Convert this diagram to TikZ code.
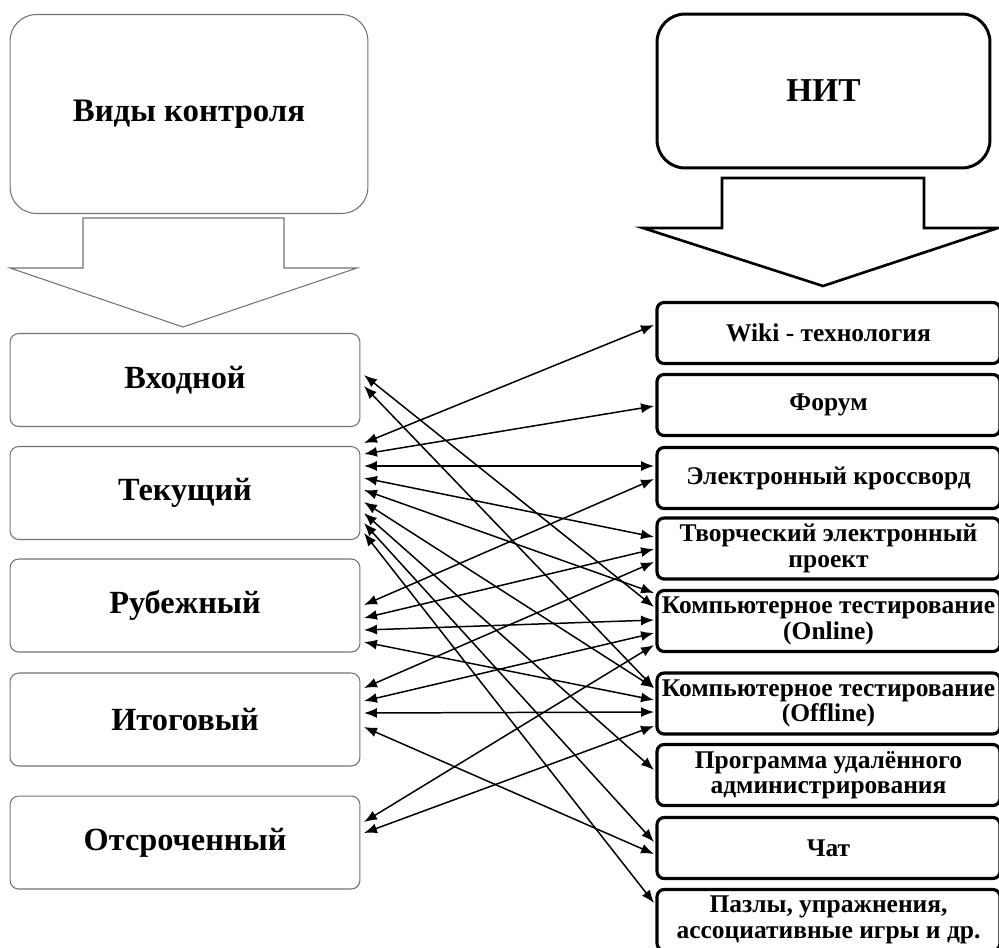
\documentclass[tikz,border=0pt]{standalone}
\usepackage{fontspec}
\setmainfont{Liberation Serif}
\usetikzlibrary{arrows.meta,calc}

\begin{document}
\begin{tikzpicture}[x=0.02cm,y=-0.02cm]
\tikzstyle{every node}+=[inner sep=0pt,outer sep=0pt,font=\bfseries]
\tikzstyle{vid}=[draw=black!55,line width=0.6pt,rounded corners=5pt,minimum width=7cm,minimum height=1.86cm,font=\bfseries\fontsize{18.4}{20}\selectfont]
\tikzstyle{tech}=[draw=black,line width=1.8pt,rounded corners=4pt,minimum width=6.86cm,minimum height=1.22cm,align=center,font=\bfseries\fontsize{14.5}{14.5}\selectfont]
\tikzstyle{link}=[{Latex[length=2.6mm,width=2mm]}-{Latex[length=2.6mm,width=2mm]},line width=0.85pt]
\useasboundingbox (0,0) rectangle (999,947);
\node [draw=black!55,line width=0.6pt,rounded corners=15pt,minimum width=7.16cm,minimum height=3.98cm,font=\bfseries\fontsize{18.7}{21}\selectfont] (vidy) at (189,114) {Виды контроля};
\node [draw=black,line width=1.7pt,rounded corners=16pt,minimum width=6.66cm,minimum height=3.08cm,font=\bfseries\fontsize{19}{21}\selectfont] (nit) at (823.5,91) {НИТ};
\draw [black!55,line width=0.6pt] (83,218) -- (284,218) -- (284,268) -- (357,268) -- (183,327) -- (10,268) -- (83,268) -- cycle;
\draw [black,line width=1.5pt] (722,178) -- (924,178) -- (924,228) -- (998,228) -- (823,286) -- (643,228) -- (722,228) -- cycle;
\node [vid] (vhod) at (185,380) {Входной};
\node [vid] (tek) at (185,493) {Текущий};
\node [vid] (rub) at (185,605.5) {Рубежный};
\node [vid] (itog) at (185,719.5) {Итоговый};
\node [vid] (otsr) at (185,842.5) {Отсроченный};
\node [tech] (wiki) at (828.5,333) {Wiki - технология};
\node [tech] (forum) at (828.5,405) {Форум};
\node [tech] (kross) at (828.5,478) {Электронный кроссворд};
\node [tech] (tvor) at (828.5,548.5) {Творческий электронный\\проект};
\node [tech] (onl) at (828.5,621) {Компьютерное тестирование\\(Online)};
\node [tech] (offl) at (828.5,703.5) {Компьютерное тестирование\\(Offline)};
\node [tech] (prog) at (828.5,775) {Программа удалённого\\администрирования};
\node [tech] (chat) at (828.5,848) {Чат};
\node [tech] (puzz) at (828.5,920) {Пазлы, упражнения,\\ассоциативные игры и др.};
\draw [link] ($(vhod.east)+(4,-5)$) -- ($(onl.west)+(-3,-14)$);
\draw [link] ($(vhod.east)+(4,6)$) -- ($(offl.west)+(-3,-15.5)$);
\draw [link] ($(tek.east)+(4,-50)$) -- ($(wiki.west)+(-3,-8)$);
\draw [link] ($(tek.east)+(4,-39)$) -- ($(forum.west)+(-3,1)$);
\draw [link] ($(tek.east)+(4,-27)$) -- ($(kross.west)+(-3,-12)$);
\draw [link] ($(tek.east)+(4,-15)$) -- ($(tvor.west)+(-3,-11.5)$);
\draw [link] ($(tek.east)+(4,-3)$) -- ($(onl.west)+(-3,-28)$);
\draw [link] ($(tek.east)+(4,9)$) -- ($(offl.west)+(-3,-15.5)$);
\draw [link] ($(tek.east)+(4,20)$) -- ($(prog.west)+(-3,-5)$);
\draw [link] ($(tek.east)+(4,30)$) -- ($(chat.west)+(-3,-6)$);
\draw [link] ($(tek.east)+(4,40)$) -- ($(puzz.west)+(-3,-17)$);
\draw [link] ($(rub.east)+(4,-0.5)$) -- ($(kross.west)+(-3,1)$);
\draw [link] ($(rub.east)+(4,12.5)$) -- ($(tvor.west)+(-3,0.5)$);
\draw [link] ($(rub.east)+(4,24.5)$) -- ($(onl.west)+(-3,-1)$);
\draw [link] ($(rub.east)+(4,36.5)$) -- ($(offl.west)+(-3,-3.5)$);
\draw [link] ($(itog.east)+(4,-31.5)$) -- ($(tvor.west)+(-3,13.5)$);
\draw [link] ($(itog.east)+(4,-18.5)$) -- ($(onl.west)+(-3,12)$);
\draw [link] ($(itog.east)+(4,-6.5)$) -- ($(offl.west)+(-3,8.5)$);
\draw [link] ($(itog.east)+(4,7.5)$) -- ($(chat.west)+(-3,6)$);
\draw [link] ($(otsr.east)+(4,-20.5)$) -- ($(onl.west)+(-3,24)$);
\draw [link] ($(otsr.east)+(4,-9.5)$) -- ($(offl.west)+(-3,22.5)$);
\end{tikzpicture}
\end{document}
